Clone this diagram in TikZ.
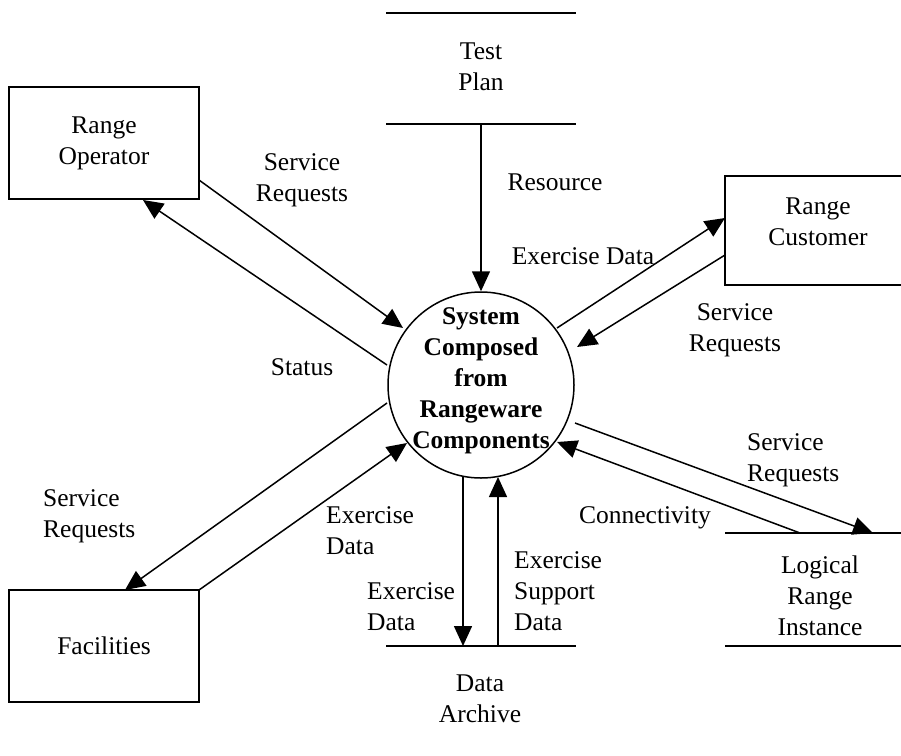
\documentclass[tikz,border=0pt]{standalone}
\usepackage{fontspec}
\setmainfont{Liberation Serif}
\usetikzlibrary{arrows.meta}
\begin{document}
\begin{tikzpicture}[x=1pt,y=-1pt,
  lbl/.style={inner sep=0pt, font=\fontsize{25.5}{31}\selectfont, align=center},
  lbll/.style={lbl, align=left, anchor=west},
  ent/.style={draw, line width=1.5pt, inner sep=0pt, minimum width=190pt, minimum height=112pt,
    font=\fontsize{25.5}{31}\selectfont, align=center},
  flow/.style={line width=1.5pt, -{Triangle[length=20pt,width=18pt]}},
  storeline/.style={line width=1.5pt}]
\useasboundingbox (0,0) rectangle (901,755);
\clip (0,0) rectangle (901,755);

% central process
\node[draw, circle, line width=1.5pt, minimum size=186pt, inner sep=0pt] (sys) at (481,385) {};
\node[lbl, font=\fontsize{25.5}{31}\selectfont\bfseries] (systxt) at (481,381)
  {System\\Composed\\from\\Rangeware\\Components};

% external entities
\node[ent] (rangeop) at (104,143) {Range\\Operator};
\node[ent] (fac) at (104,646) {Facilities};
\node[draw, line width=1.5pt, inner sep=0pt, minimum width=187pt, minimum height=109pt] (cust) at (818.5,230.5) {};
\node[lbl] (custtxt) at (818,222) {Range\\Customer};

% data stores
\coordinate (tpL1) at (386,13);  \coordinate (tpR1) at (576,13);
\coordinate (tpL2) at (386,124); \coordinate (tpR2) at (576,124);
\draw[storeline] (tpL1) -- (tpR1);
\draw[storeline] (tpL2) -- (tpR2);
\node[lbl] (tptxt) at (481,67) {Test\\Plan};

\coordinate (daL) at (386,646); \coordinate (daR) at (576,646);
\draw[storeline] (daL) -- (daR);
\node[lbl] (datxt) at (480,699) {Data\\Archive};

\coordinate (lriL1) at (725,533); \coordinate (lriR1) at (905,533);
\coordinate (lriL2) at (725,646); \coordinate (lriR2) at (905,646);
\draw[storeline] (lriL1) -- (lriR1);
\draw[storeline] (lriL2) -- (lriR2);
\node[lbl] (lritxt) at (820,596) {Logical\\Range\\Instance};

% flow end points
\coordinate (tpA) at (481,124);
\coordinate (opOut) at (199,180);  \coordinate (sysA) at (403,328);
\coordinate (sysB) at (387,365);   \coordinate (opIn) at (143,200);
\coordinate (sysC) at (557,328);   \coordinate (custIn) at (725,218);
\coordinate (custOut) at (725,255); \coordinate (sysD) at (577,347);
\coordinate (sysE) at (387,403);   \coordinate (facIn) at (125,590);
\coordinate (facOut) at (199,590); \coordinate (sysF) at (407,443);
\coordinate (sysG) at (463,477);   \coordinate (daIn) at (463,646);
\coordinate (daOut) at (498,646);  \coordinate (sysH) at (498,477);
\coordinate (sysI) at (575,423);   \coordinate (lriIn) at (873,533);
\coordinate (lriOut) at (800,533); \coordinate (sysJ) at (557,442);

% flows
\draw[flow] (tpA) -- (sys.north);
\draw[flow] (opOut) -- (sysA);
\draw[flow] (sysB) -- (opIn);
\draw[flow] (sysC) -- (custIn);
\draw[flow] (custOut) -- (sysD);
\draw[flow] (sysE) -- (facIn);
\draw[flow] (facOut) -- (sysF);
\draw[flow] (sysG) -- (daIn);
\draw[flow] (daOut) -- (sysH);
\draw[flow] (sysI) -- (lriIn);
\draw[flow] (lriOut) -- (sysJ);

% flow labels
\node[lbl] (lResource) at (555,182) {Resource};
\node[lbl] (lSrOp) at (302,180) {Service\\Requests};
\node[lbl] (lStatus) at (302,367) {Status};
\node[lbl] (lExCust) at (583,256) {Exercise Data};
\node[lbl] (lSrCust) at (735,330) {Service\\Requests};
\node[lbll] (lSrFac) at (43,516) {Service\\Requests};
\node[lbll] (lExFac) at (326,531) {Exercise\\Data};
\node[lbll] (lExDa) at (367,607) {Exercise\\Data};
\node[lbll] (lExSup) at (514,591) {Exercise\\Support\\Data};
\node[lbl] (lConn) at (645,518) {Connectivity};
\node[lbll] (lSrLri) at (747,460) {Service\\Requests};
\end{tikzpicture}
\end{document}
